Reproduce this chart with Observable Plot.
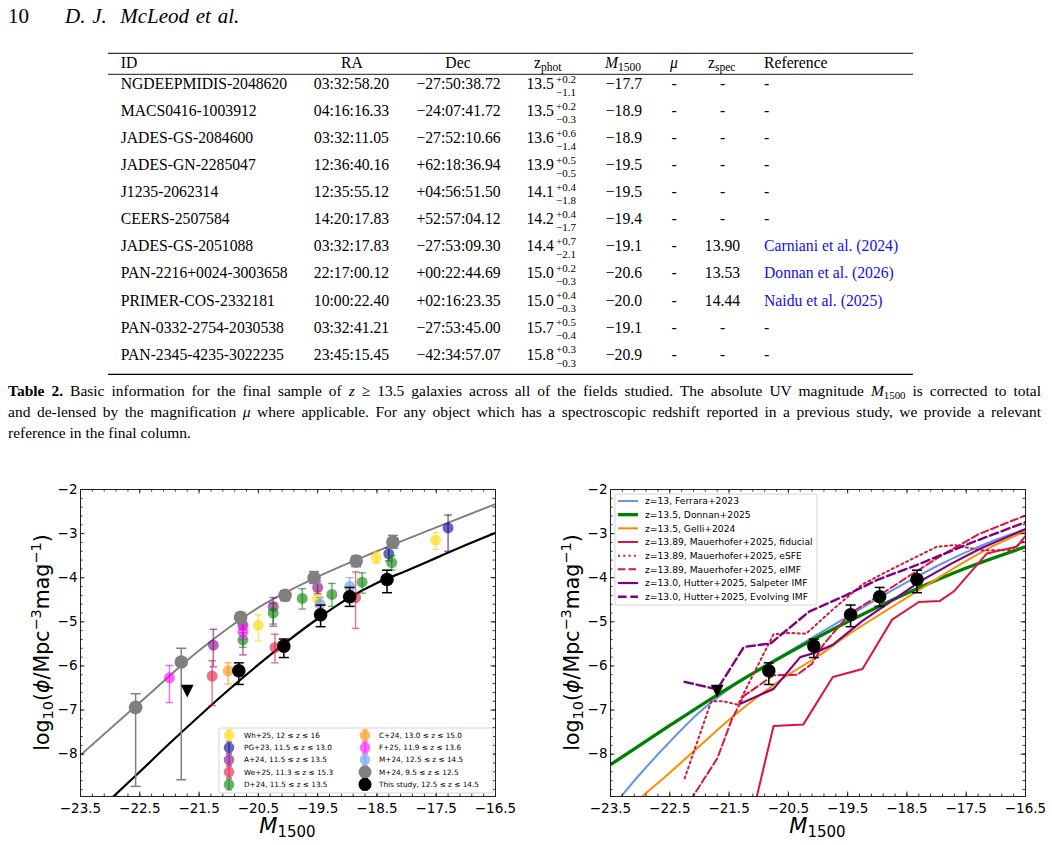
<!DOCTYPE html>
<html>
<head>
<meta charset="utf-8">
<script src="https://cdn.jsdelivr.net/npm/d3@7"></script>
<script src="https://cdn.jsdelivr.net/npm/@observablehq/plot@0.6"></script>
<style>
  body { margin: 0; background: #fff; }
  #page { position: relative; width: 1052px; height: 845px; overflow: hidden; background: #fff;
          font-family: "Liberation Serif", "Times New Roman", serif; color: #000; }
  .capline { position: absolute; left: 8px; width: 1033px; font-size: 15.5px; line-height: 20px;
             text-align: justify; text-align-last: justify; white-space: nowrap; }
  .capline.last { text-align: left; text-align-last: left; }
  .capline sub { font-size: 70%; vertical-align: -0.3em; line-height: 0; }
</style>
</head>
<body>
<div id="page"></div>
<script>
// ---------------- Table 2 contents ----------------
const ids = ["NGDEEPMIDIS-2048620", "MACS0416-1003912", "JADES-GS-2084600", "JADES-GN-2285047",
  "J1235-2062314", "CEERS-2507584", "JADES-GS-2051088", "PAN-2216+0024-3003658",
  "PRIMER-COS-2332181", "PAN-0332-2754-2030538", "PAN-2345-4235-3022235"];
const ras = ["03:32:58.20", "04:16:16.33", "03:32:11.05", "12:36:40.16", "12:35:55.12", "14:20:17.83",
  "03:32:17.83", "22:17:00.12", "10:00:22.40", "03:32:41.21", "23:45:15.45"];
const decs = ["\u221227:50:38.72", "\u221224:07:41.72", "\u221227:52:10.66", "+62:18:36.94", "+04:56:51.50",
  "+52:57:04.12", "\u221227:53:09.30", "+00:22:44.69", "+02:16:23.35", "\u221227:53:45.00", "\u221242:34:57.07"];
const zphot = ["13.5", "13.5", "13.6", "13.9", "14.1", "14.2", "14.4", "15.0", "15.0", "15.7", "15.8"];
const zphotUp = ["+0.2", "+0.2", "+0.6", "+0.5", "+0.4", "+0.4", "+0.7", "+0.2", "+0.4", "+0.5", "+0.3"];
const zphotLo = ["\u22121.1", "\u22120.3", "\u22121.4", "\u22120.5", "\u22121.8", "\u22121.7", "\u22122.1",
  "\u22120.3", "\u22120.3", "\u22120.4", "\u22120.3"];
const m1500 = ["\u221217.7", "\u221218.9", "\u221218.9", "\u221219.5", "\u221219.5", "\u221219.4", "\u221219.1",
  "\u221220.6", "\u221220.0", "\u221219.1", "\u221220.9"];
const mus = ["-", "-", "-", "-", "-", "-", "-", "-", "-", "-", "-"];
const zspec = ["-", "-", "-", "-", "-", "-", "13.90", "13.53", "14.44", "-", "-"];
const refs = ["-", "-", "-", "-", "-", "-", "Carniani et al. (2024)", "Donnan et al. (2026)", "Naidu et al. (2025)", "-", "-"];

// ---------------- UV luminosity function panels ----------------
const xTickValues = [-23.5, -22.5, -21.5, -20.5, -19.5, -18.5, -17.5, -16.5];
const yTickValues = [-2, -3, -4, -5, -6, -7, -8];

// each row: M1500, log10 phi, upper end of error bar, lower end of error bar
const wh25 = [[-20.50, -5.08, -4.84, -5.43], [-19.50, -4.47, -4.30, -4.65], [-18.51, -3.55, -3.42, -3.67], [-17.51, -3.15, -2.98, -3.36]];
const pg23 = [[-18.30, -3.46, -3.33, -3.62], [-17.30, -2.87, -2.58, -3.40]];
const a24 = [[-21.26, -5.53, -5.17, -6.02], [-20.76, -5.08, -4.96, -5.75], [-20.25, -4.65, -4.45, -5.10], [-19.50, -4.22, -4.08, -4.36]];
const we25 = [[-21.28, -6.23, -5.88, -6.90], [-20.22, -5.58, -5.28, -5.93], [-18.86, -4.45, -3.87, -5.15]];
const d24 = [[-20.76, -5.41, -5.25, -5.58], [-20.25, -4.80, -4.58, -5.05], [-19.76, -4.47, -4.25, -4.71],
  [-19.26, -4.38, -4.13, -4.65], [-18.75, -4.10, -3.89, -4.35], [-18.25, -3.66, -3.50, -3.83]];
const c24 = [[-21.01, -6.11, -5.93, -6.41]];
const f25 = [[-22.00, -6.27, -5.99, -6.83], [-20.76, -5.23, -5.08, -5.40]];
const m24High = [[-19.46, -4.60, -4.45, -4.78], [-18.96, -4.20, -4.00, -4.41]];
const m24Low = [[-22.57, -6.94, -6.63, -8.73], [-21.80, -5.91, -5.60, -8.58], [-20.80, -4.90, -4.80, -5.02],
  [-20.05, -4.40, -4.30, -4.52], [-19.56, -4.00, -3.86, -4.13], [-18.85, -3.62, -3.51, -3.75], [-18.23, -3.19, -3.04, -3.33]];
const thisStudy = [[-20.83, -6.11, -5.93, -6.42], [-20.07, -5.55, -5.39, -5.81], [-19.45, -4.84, -4.62, -5.11],
  [-18.96, -4.43, -4.22, -4.65], [-18.33, -4.04, -3.83, -4.34]];
const upperLimit = [[-21.70, -6.57]];

// fitted luminosity functions (M1500, log10 phi)
const fitLowZ = [[-23.5, -8.02], [-22.5, -6.83], [-21.5, -5.65], [-20.5, -4.68], [-19.5, -3.98], [-18.5, -3.40], [-17.5, -2.86], [-16.5, -2.33]];
const fitThisStudy = [[-23.0, -9.03], [-22.5, -8.40], [-22.0, -7.76], [-21.5, -7.14], [-21.0, -6.54], [-20.5, -5.97], [-20.0, -5.43],
  [-19.5, -4.93], [-19.0, -4.48], [-18.5, -4.12], [-18.0, -3.84], [-17.5, -3.55], [-17.0, -3.26], [-16.5, -2.98]];

// model predictions (M1500, log10 phi)
const ferrara23 = [[-23.5, -9.25], [-23.0, -8.45], [-22.5, -7.72], [-22.0, -7.05], [-21.5, -6.52], [-21.0, -6.08], [-20.5, -5.68],
  [-20.0, -5.28], [-19.5, -4.88], [-19.0, -4.48], [-18.5, -4.10], [-18.0, -3.74], [-17.5, -3.42], [-17.0, -3.14], [-16.5, -2.90]];
const donnan25 = [[-23.5, -8.24], [-22.5, -7.35], [-21.5, -6.49], [-20.5, -5.71], [-19.5, -5.00], [-18.5, -4.35], [-17.5, -3.78], [-16.5, -3.30]];
const gelli24 = [[-23.5, -9.60], [-23.0, -9.00], [-22.5, -8.42], [-22.0, -7.82], [-21.5, -7.22], [-21.0, -6.68], [-20.5, -6.20],
  [-20.0, -5.78], [-19.5, -5.30], [-19.0, -4.87], [-18.5, -4.45], [-18.0, -4.03], [-17.5, -3.62], [-17.0, -3.25], [-16.5, -2.95]];
const mauerFiducial = [[-21.25, -10.2], [-20.75, -7.36], [-20.25, -7.33], [-19.75, -6.25], [-19.25, -6.07], [-18.75, -4.95],
  [-18.30, -4.55], [-17.95, -4.53], [-17.70, -4.30], [-17.15, -3.45], [-16.80, -3.34], [-16.65, -3.30], [-16.50, -3.05]];
const mauerESFE = [[-22.25, -8.55], [-21.80, -6.80], [-21.60, -6.80], [-21.35, -6.88], [-20.75, -5.28], [-20.50, -5.25], [-20.20, -5.27],
  [-19.75, -4.72], [-19.25, -4.15], [-18.75, -3.80], [-18.00, -3.30], [-17.70, -3.26], [-17.25, -3.38], [-16.75, -3.37], [-16.50, -3.15]];
const mauerEIMF = [[-22.25, -9.25], [-21.70, -8.10], [-21.45, -7.20], [-21.25, -6.68], [-20.75, -6.21], [-20.35, -6.20], [-20.10, -5.95],
  [-19.90, -5.50], [-19.45, -4.80], [-19.00, -4.43], [-18.45, -3.95], [-17.90, -3.48], [-17.30, -3.02], [-16.75, -2.72], [-16.50, -2.59]];
const hutterSalpeter = [[-21.30, -6.85], [-20.75, -6.52], [-20.30, -5.80], [-20.05, -5.70], [-19.75, -5.52], [-19.25, -4.98],
  [-18.75, -4.52], [-18.25, -4.06], [-17.75, -3.68], [-17.25, -3.33], [-16.50, -2.90]];
const hutterEvolving = [[-22.25, -6.36], [-21.70, -6.53], [-21.25, -5.57], [-20.80, -5.49], [-20.15, -4.77], [-19.55, -4.41],
  [-19.00, -4.05], [-18.35, -3.72], [-17.40, -3.20], [-16.50, -2.74]];

// ---------------- page ----------------
const page = d3.select("#page");
const MINUS = "\u2212";

// running head + table, drawn as one SVG layer
const sheet = page.append("svg").attr("width", 1052).attr("height", 380)
  .style("position", "absolute").style("left", "0px").style("top", "0px")
  .style("font-family", "'Liberation Serif', 'Times New Roman', serif");

sheet.append("text").attr("x", 8).attr("y", 23).attr("font-size", 21).text("10");
sheet.append("text").attr("x", 65).attr("y", 23).attr("font-size", 21).attr("font-style", "italic")
  .attr("word-spacing", 1.5).style("white-space", "pre").text("D. J.  McLeod et al.");

const ruleX0 = 108, ruleX1 = 913;
[[53.3, 1], [74.3, 0.9], [374.3, 1.2]].forEach(([y, w]) =>
  sheet.append("line").attr("x1", ruleX0).attr("x2", ruleX1).attr("y1", y).attr("y2", y).attr("stroke", "#000").attr("stroke-width", w));

const fs = 15.7;
const hb = 67.5; // header baseline
const hdr = sheet.append("g").attr("font-size", fs);
hdr.append("text").attr("x", 120.7).attr("y", hb).text("ID");
hdr.append("text").attr("x", 352).attr("y", hb).attr("text-anchor", "middle").text("RA");
hdr.append("text").attr("x", 458).attr("y", hb).attr("text-anchor", "middle").text("Dec");
const zh = hdr.append("text").attr("x", 534).attr("y", hb);
zh.append("tspan").text("z");
zh.append("tspan").attr("font-size", 11.5).attr("dy", 3.5).text("phot");
const mh = hdr.append("text").attr("x", 605).attr("y", hb);
mh.append("tspan").attr("font-style", "italic").text("M");
mh.append("tspan").attr("font-size", 11.5).attr("dy", 3.5).text("1500");
hdr.append("text").attr("x", 674).attr("y", hb).attr("text-anchor", "middle").attr("font-style", "italic").text("\u03bc");
const sh = hdr.append("text").attr("x", 708).attr("y", hb);
sh.append("tspan").text("z");
sh.append("tspan").attr("font-size", 11.5).attr("dy", 3.5).text("spec");
hdr.append("text").attr("x", 764).attr("y", hb).text("Reference");

const rowsG = sheet.append("g").attr("font-size", fs);
ids.forEach((id, i) => {
  const b = 89 + i * 27.07;
  rowsG.append("text").attr("x", 120.7).attr("y", b).text(id);
  rowsG.append("text").attr("x", 351.5).attr("y", b).attr("text-anchor", "middle").text(ras[i]);
  rowsG.append("text").attr("x", 458.5).attr("y", b).attr("text-anchor", "middle").text(decs[i]);
  rowsG.append("text").attr("x", 526.5).attr("y", b).text(zphot[i]);
  // asymmetric photometric-redshift errors, stacked
  rowsG.append("text").attr("x", 556).attr("y", b - 6.3).attr("font-size", 11).text(zphotUp[i]);
  rowsG.append("text").attr("x", 556).attr("y", b + 6.8).attr("font-size", 11).text(zphotLo[i]);
  rowsG.append("text").attr("x", 605.7).attr("y", b).text(m1500[i]);
  rowsG.append("text").attr("x", 674).attr("y", b).attr("text-anchor", "middle").text(mus[i]);
  rowsG.append("text").attr("x", 722.5).attr("y", b).attr("text-anchor", "middle").text(zspec[i]);
  rowsG.append("text").attr("x", 764).attr("y", b).attr("fill", refs[i] === "-" ? "#000" : "#1010f0").text(refs[i]);
});

// caption
const capLines = [
  '<b>Table 2.</b> Basic information for the final sample of <i>z</i> \u2265 13.5 galaxies across all of the fields studied. The absolute UV magnitude <i>M</i><sub>1500</sub> is corrected to total',
  'and de-lensed by the magnification <i>\u03bc</i> where applicable. For any object which has a spectroscopic redshift reported in a previous study, we provide a relevant',
  'reference in the final column.'
];
capLines.forEach((html, i) => {
  page.append("div").attr("class", "capline" + (i === 2 ? " last" : ""))
    .style("top", (381 + i * 20.8) + "px").html(html);
});

// ---------------- shared chart pieces ----------------
const X_DOMAIN = [-23.5, -16.5];
const Y_DOMAIN = [-8.96, -2];
const H = 375, MT = 19, MB = 49, ML = 80;
const FH = H - MT - MB;
const minorX = d3.range(0, 36).map(i => Math.round((-23.5 + i * 0.2) * 10) / 10);
const minorY = d3.range(0, 35).map(i => Math.round((-2 - i * 0.2) * 10) / 10);
const fmtX = d => (d < 0 ? MINUS : "") + Math.abs(d).toFixed(1);
const fmtY = d => (d < 0 ? MINUS : "") + Math.abs(d);

// horizontal cap of an error bar
const capSymbol = { draw(ctx, size) { const w = Math.sqrt(size / Math.PI); ctx.moveTo(-w, 0); ctx.lineTo(w, 0); } };
// downward triangle for the upper limit
const triDown = { draw(ctx, size) { const r = Math.sqrt(size / Math.PI); ctx.moveTo(-r, -r); ctx.lineTo(r, -r); ctx.lineTo(0, r); ctx.closePath(); } };

function frameMarks(fw) {
  const t = { stroke: "#000", strokeWidth: 0.8 };
  return [
    Plot.ruleX(minorX, { x: d => d, insetTop: FH - 2.5, ...t }),
    Plot.ruleX(minorX, { x: d => d, insetBottom: FH - 2.5, ...t }),
    Plot.ruleX(xTickValues, { x: d => d, insetTop: FH - 4.5, ...t }),
    Plot.ruleX(xTickValues, { x: d => d, insetBottom: FH - 4.5, ...t }),
    Plot.ruleY(minorY, { y: d => d, insetRight: fw - 2.5, ...t }),
    Plot.ruleY(minorY, { y: d => d, insetLeft: fw - 2.5, ...t }),
    Plot.ruleY(yTickValues, { y: d => d, insetRight: fw - 4.5, ...t }),
    Plot.ruleY(yTickValues, { y: d => d, insetLeft: fw - 4.5, ...t }),
    Plot.axisX({ ticks: xTickValues, tickSize: 0, tickPadding: 7, tickFormat: fmtX, fontSize: 13.5, label: null }),
    Plot.axisY({ ticks: yTickValues, tickSize: 0, tickPadding: 3, tickFormat: fmtY, fontSize: 13.5, label: null }),
    Plot.frame({ stroke: "#222", strokeWidth: 1 })
  ];
}

function errorPoints(data, color, { r = 5.5, opacity = 0.6, cap = 3.8, sw = 1.4 } = {}) {
  const s = { stroke: color, strokeWidth: sw, strokeOpacity: opacity };
  return [
    Plot.ruleX(data, { x: d => d[0], y1: d => d[3], y2: d => d[2], ...s }),
    Plot.dot(data, { x: d => d[0], y: d => d[2], symbol: capSymbol, r: cap, fill: "none", ...s }),
    Plot.dot(data, { x: d => d[0], y: d => d[3], symbol: capSymbol, r: cap, fill: "none", ...s }),
    Plot.dot(data, { x: d => d[0], y: d => d[1], r, fill: color, fillOpacity: opacity, stroke: "none" })
  ];
}

function axisLabels(svg, fw) {
  const cx = ML + fw / 2;
  const yl = svg.append("text").attr("transform", `translate(49,${MT + FH / 2}) rotate(-90)`)
    .attr("text-anchor", "middle").attr("font-family", "DejaVu Sans").attr("font-size", 20.5).attr("fill", "#000");
  yl.append("tspan").text("log");
  yl.append("tspan").attr("font-size", 14.5).attr("dy", 4).text("10");
  yl.append("tspan").attr("dy", -4).text("(");
  yl.append("tspan").attr("font-style", "italic").text("\u03d5");
  yl.append("tspan").text("/Mpc");
  yl.append("tspan").attr("font-size", 14.5).attr("dy", -8).text(MINUS + "3");
  yl.append("tspan").attr("dy", 8).text("mag");
  yl.append("tspan").attr("font-size", 14.5).attr("dy", -8).text(MINUS + "1");
  yl.append("tspan").attr("dy", 8).text(")");
  const xl = svg.append("text").attr("x", cx).attr("y", 363).attr("text-anchor", "middle")
    .attr("font-family", "DejaVu Sans").attr("font-size", 21).attr("fill", "#000");
  xl.append("tspan").attr("font-style", "italic").text("M");
  xl.append("tspan").attr("font-size", 15).attr("dy", 4).text("1500");
}

function place(svgNode, left) {
  svgNode.style.position = "absolute";
  svgNode.style.left = left + "px";
  svgNode.style.top = "470px";
  svgNode.style.maxWidth = "none";
  page.node().appendChild(svgNode);
  return d3.select(svgNode);
}

// ---------------- left panel: observed UV LFs ----------------
const LW = 520, LMR = 25, LFW = LW - ML - LMR;
const leftSeries = [
  { data: wh25, color: "gold", label: "Wh+25, 12 \u2264 z \u2264 16" },
  { data: pg23, color: "darkblue", label: "PG+23, 11.5 \u2264 z \u2264 13.0" },
  { data: a24, color: "purple", label: "A+24, 11.5 \u2264 z \u2264 13.5" },
  { data: we25, color: "crimson", label: "We+25, 11.3 \u2264 z \u2264 15.3" },
  { data: d24, color: "green", label: "D+24, 11.5 \u2264 z \u2264 13.5" },
  { data: c24, color: "darkorange", label: "C+24, 13.0 \u2264 z \u2264 15.0" },
  { data: f25, color: "magenta", label: "F+25, 11.9 \u2264 z \u2264 13.6" },
  { data: m24High, color: "cornflowerblue", label: "M+24, 12.5 \u2264 z \u2264 14.5" },
  { data: m24Low, color: "gray", label: "M+24, 9.5 \u2264 z \u2264 12.5", big: true },
  { data: thisStudy, color: "black", label: "This study, 12.5 \u2264 z \u2264 14.5", big: true }
];

const leftPlot = Plot.plot({
  width: LW, height: H, marginLeft: ML, marginRight: LMR, marginTop: MT, marginBottom: MB,
  x: { domain: X_DOMAIN }, y: { domain: Y_DOMAIN },
  style: { fontFamily: "DejaVu Sans", background: "transparent", overflow: "visible", color: "#000" },
  marks: [
    Plot.line(fitLowZ, { x: d => d[0], y: d => d[1], stroke: "gray", strokeWidth: 2, curve: "monotone-x", clip: true }),
    Plot.line(fitThisStudy, { x: d => d[0], y: d => d[1], stroke: "black", strokeWidth: 2.2, curve: "monotone-x", clip: true }),
    ...leftSeries.flatMap(s => s.big
      ? errorPoints(s.data, s.color, { r: 6.8, opacity: 1, cap: 5, sw: 1.5 })
      : errorPoints(s.data, s.color)),
    Plot.dot(upperLimit, { x: d => d[0], y: d => d[1], symbol: triDown, r: 6.4, fill: "black" }),
    ...frameMarks(LFW)
  ]
});
const leftSvg = place(leftPlot, 0);
axisLabels(leftSvg, LFW);

// legend of the left panel
{
  const g = leftSvg.append("g").attr("transform", "translate(219,258)").attr("font-family", "DejaVu Sans")
    .attr("font-size", 7.3).attr("text-anchor", "start");
  g.append("rect").attr("width", 274).attr("height", 65).attr("rx", 2).attr("fill", "#fff").attr("fill-opacity", 0.8)
    .attr("stroke", "#ccc").attr("stroke-width", 0.8);
  leftSeries.forEach((s, i) => {
    const col = i < 5 ? 0 : 1, row = i % 5;
    const mx = col ? 146 : 10, tx = col ? 160 : 25, y = 7.2 + row * 12.3;
    const op = s.big ? 1 : 0.6, r = s.big ? 6.5 : 5.3;
    g.append("line").attr("x1", mx).attr("x2", mx).attr("y1", y - 5.5).attr("y2", y + 5.5)
      .attr("stroke", s.color).attr("stroke-opacity", op).attr("stroke-width", 1.3);
    [y - 5.5, y + 5.5].forEach(cy => g.append("line").attr("x1", mx - 3).attr("x2", mx + 3).attr("y1", cy).attr("y2", cy)
      .attr("stroke", s.color).attr("stroke-opacity", op).attr("stroke-width", 1.3));
    g.append("circle").attr("cx", mx).attr("cy", y).attr("r", r).attr("fill", s.color).attr("fill-opacity", op);
    g.append("text").attr("x", tx).attr("y", y).attr("dy", "0.35em").attr("text-anchor", "start").attr("fill", "#000").text(s.label);
  });
}

// ---------------- right panel: model predictions ----------------
const RW = 522, RMR = 27, RFW = RW - ML - RMR;
const models = [
  { data: ferrara23, color: "cornflowerblue", width: 2, dash: null, curve: "monotone-x", label: "z=13, Ferrara+2023" },
  { data: donnan25, color: "green", width: 3.3, dash: null, curve: "monotone-x", label: "z=13.5, Donnan+2025" },
  { data: gelli24, color: "darkorange", width: 2, dash: null, curve: "monotone-x", label: "z=13.5, Gelli+2024" },
  { data: mauerFiducial, color: "crimson", width: 2, dash: null, curve: "linear", label: "z=13.89, Mauerhofer+2025, fiducial" },
  { data: mauerESFE, color: "crimson", width: 2, dash: "2,3.3", curve: "linear", label: "z=13.89, Mauerhofer+2025, eSFE" },
  { data: mauerEIMF, color: "crimson", width: 2, dash: "7.4,3.2", curve: "linear", label: "z=13.89, Mauerhofer+2025, eIMF" },
  { data: hutterSalpeter, color: "purple", width: 2.2, dash: null, curve: "linear", label: "z=13.0, Hutter+2025, Salpeter IMF" },
  { data: hutterEvolving, color: "purple", width: 2.4, dash: "8.5,3.8", curve: "linear", label: "z=13.0, Hutter+2025, Evolving IMF" }
];

const rightPlot = Plot.plot({
  width: RW, height: H, marginLeft: ML, marginRight: RMR, marginTop: MT, marginBottom: MB,
  x: { domain: X_DOMAIN }, y: { domain: Y_DOMAIN },
  style: { fontFamily: "DejaVu Sans", background: "transparent", overflow: "visible", color: "#000" },
  marks: [
    ...models.map(m => Plot.line(m.data, { x: d => d[0], y: d => d[1], stroke: m.color, strokeWidth: m.width,
      strokeDasharray: m.dash ?? undefined, curve: m.curve, clip: true })),
    ...errorPoints(thisStudy, "black", { r: 6.8, opacity: 1, cap: 5, sw: 1.5 }),
    Plot.dot(upperLimit, { x: d => d[0], y: d => d[1], symbol: triDown, r: 6.4, fill: "black" }),
    ...frameMarks(RFW)
  ]
});
const rightSvg = place(rightPlot, 530);
axisLabels(rightSvg, RFW);

// legend of the right panel
{
  const g = rightSvg.append("g").attr("transform", "translate(85,24)").attr("font-family", "DejaVu Sans")
    .attr("font-size", 9.2).attr("text-anchor", "start");
  g.append("rect").attr("width", 202).attr("height", 111).attr("rx", 2).attr("fill", "#fff").attr("fill-opacity", 0.8)
    .attr("stroke", "#ccc").attr("stroke-width", 0.8);
  models.forEach((m, i) => {
    const y = 7 + i * 13.67;
    g.append("line").attr("x1", 3).attr("x2", 23).attr("y1", y).attr("y2", y)
      .attr("stroke", m.color).attr("stroke-width", m.width).attr("stroke-dasharray", m.dash);
    g.append("text").attr("x", 30).attr("y", y).attr("dy", "0.35em").attr("text-anchor", "start").attr("fill", "#000").text(m.label);
  });
}
</script>
</body>
</html>
